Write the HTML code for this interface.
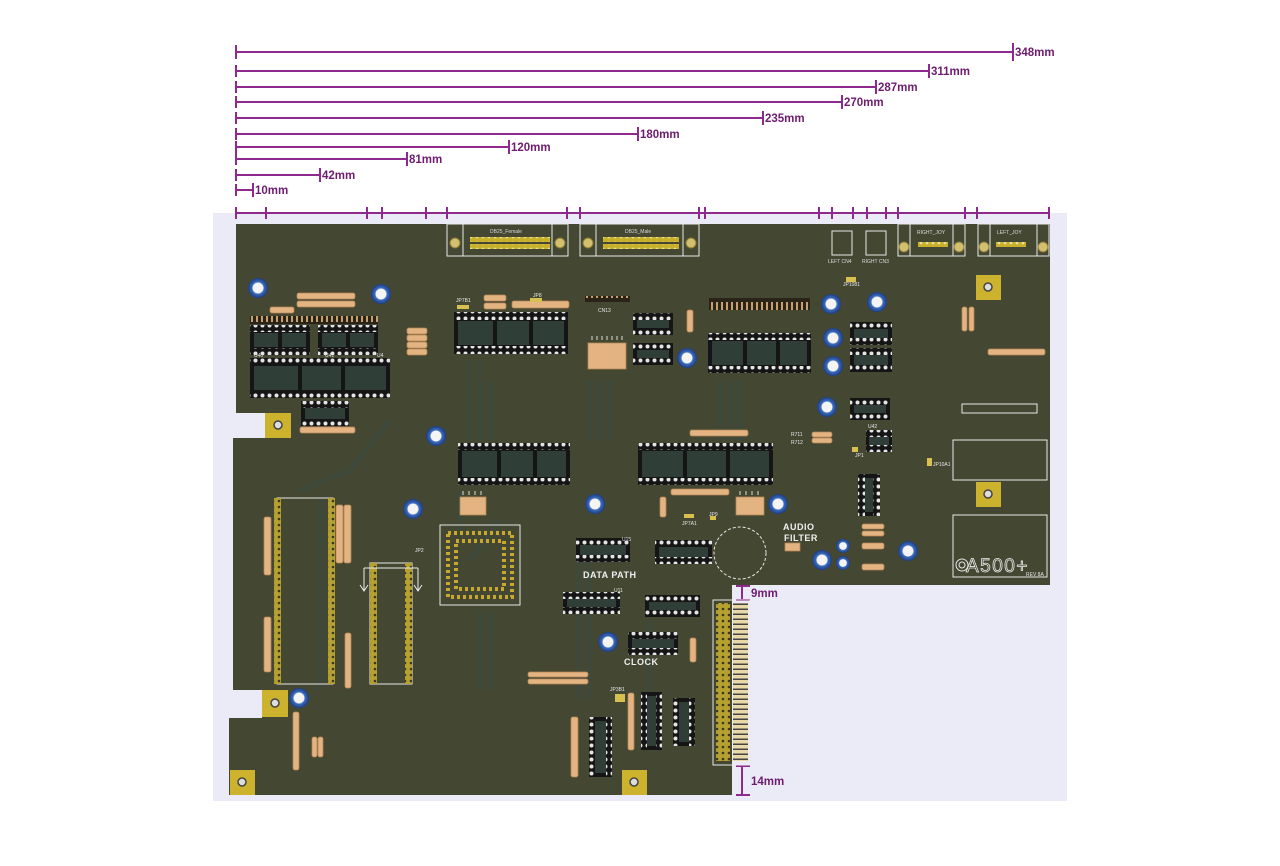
<!DOCTYPE html>
<html><head><meta charset="utf-8"><style>
html,body{margin:0;padding:0;background:#fff;width:1280px;height:866px;overflow:hidden}
svg{display:block}
text{font-family:"Liberation Sans",sans-serif}
</style></head><body>
<svg width="1280" height="866" viewBox="0 0 1280 866" xmlns="http://www.w3.org/2000/svg">
<defs>
<pattern id="h" width="7" height="7" patternUnits="userSpaceOnUse"><rect width="7" height="7" fill="#151515"/><circle cx="3.5" cy="3.5" r="2" fill="#e4e4e4"/></pattern>
<pattern id="g" width="6" height="6" patternUnits="userSpaceOnUse"><rect width="6" height="6" fill="#b5a030"/><circle cx="3" cy="3" r="1.3" fill="#3a3a20"/></pattern>
<pattern id="gv" width="6" height="6" patternUnits="userSpaceOnUse"><rect width="6" height="6" fill="#c9b02a"/><circle cx="3" cy="3" r="1.4" fill="#e8e0a0"/></pattern>
<pattern id="fing" width="6" height="5" patternUnits="userSpaceOnUse"><rect width="6" height="5" fill="#e9d9a8"/><rect y="3.5" width="6" height="1.5" fill="#444"/></pattern>
<pattern id="hdr" width="5" height="12" patternUnits="userSpaceOnUse"><rect width="5" height="12" fill="#2a2418"/><rect x="1" y="2" width="2" height="8" fill="#c7a070"/></pattern>
<radialGradient id="cap"><stop offset="0.5" stop-color="#f4f4f4"/><stop offset="0.6" stop-color="#3a6cc0"/><stop offset="1" stop-color="#1f3d80"/></radialGradient>
</defs>

<rect x="213" y="213" width="854" height="588" fill="#ebebf7"/>

<g stroke="#8e2a8e" stroke-width="2" fill="none">
<line x1="236" y1="52" x2="1013" y2="52"/><line x1="1013" y1="43" x2="1013" y2="61"/><line x1="236" y1="45" x2="236" y2="59"/>
<line x1="236" y1="71" x2="929" y2="71"/><line x1="929" y1="64" x2="929" y2="78"/><line x1="236" y1="65" x2="236" y2="77"/>
<line x1="236" y1="87" x2="876" y2="87"/><line x1="876" y1="80" x2="876" y2="94"/><line x1="236" y1="81" x2="236" y2="93"/>
<line x1="236" y1="102" x2="842" y2="102"/><line x1="842" y1="95" x2="842" y2="109"/><line x1="236" y1="96" x2="236" y2="108"/>
<line x1="236" y1="118" x2="763" y2="118"/><line x1="763" y1="111" x2="763" y2="125"/><line x1="236" y1="112" x2="236" y2="124"/>
<line x1="236" y1="134" x2="638" y2="134"/><line x1="638" y1="127" x2="638" y2="141"/><line x1="236" y1="128" x2="236" y2="140"/>
<line x1="236" y1="147" x2="509" y2="147"/><line x1="509" y1="140" x2="509" y2="154"/><line x1="236" y1="141" x2="236" y2="153"/>
<line x1="236" y1="159" x2="407" y2="159"/><line x1="407" y1="152" x2="407" y2="166"/><line x1="236" y1="153" x2="236" y2="165"/>
<line x1="236" y1="175" x2="320" y2="175"/><line x1="320" y1="168" x2="320" y2="182"/><line x1="236" y1="169" x2="236" y2="181"/>
<line x1="236" y1="190" x2="253" y2="190"/><line x1="253" y1="183" x2="253" y2="197"/><line x1="236" y1="184" x2="236" y2="196"/>
<line x1="236" y1="213" x2="1049" y2="213"/>
<path d="M236 207v12M266 207v12M367 207v12M382 207v12M426 207v12M447 207v12M567 207v12M580 207v12M699 207v12M705 207v12M819 207v12M832 207v12M853 207v12M867 207v12M886 207v12M898 207v12M965 207v12M977 207v12M1049 207v12"/>
<line x1="742" y1="586" x2="742" y2="600"/><line x1="736" y1="586" x2="750" y2="586"/><line x1="736" y1="600" x2="750" y2="600"/>
<line x1="742" y1="766" x2="742" y2="795"/><line x1="736" y1="766" x2="750" y2="766"/><line x1="736" y1="795" x2="750" y2="795"/>
</g>
<g fill="#6e1c6e" font-size="11.5" font-weight="bold">
<text x="1015" y="56">348mm</text><text x="931" y="75">311mm</text><text x="878" y="91">287mm</text>
<text x="844" y="106">270mm</text><text x="765" y="122">235mm</text><text x="640" y="138">180mm</text>
<text x="511" y="151">120mm</text><text x="409" y="163">81mm</text><text x="322" y="179">42mm</text>
<text x="255" y="194">10mm</text><text x="751" y="597">9mm</text><text x="751" y="785">14mm</text>
</g>

<path d="M236 224H1050V585H732V795H229V718H262V690H233V438H265V413H236Z" fill="#444732"/>
<g stroke="#3e4a3c" stroke-width="6" fill="none" opacity="0.7">
<path d="M470 360V440M480 360V440M490 380V440M720 380V440M730 380V440M740 380V440M460 490V530M590 380V440M600 380V440M610 380V440"/>
<path d="M580 560V700M590 560V700M650 620V700M480 610V690M490 610V690M320 500V690"/>
<path d="M390 420L350 470L300 490M500 520L470 560"/>
</g>

<g fill="none" stroke="#e8e8e8" stroke-width="1">
<rect x="447" y="224" width="121" height="32"/><rect x="580" y="224" width="119" height="32"/>
<rect x="447" y="224" width="16" height="32"/><rect x="552" y="224" width="16" height="32"/>
<rect x="580" y="224" width="16" height="32"/><rect x="683" y="224" width="16" height="32"/>
<rect x="832" y="231" width="20" height="24"/><rect x="866" y="231" width="20" height="24"/>
<rect x="898" y="224" width="67" height="32"/><rect x="978" y="224" width="71" height="32"/>
<rect x="898" y="224" width="12" height="32"/><rect x="953" y="224" width="12" height="32"/>
<rect x="978" y="224" width="12" height="32"/><rect x="1037" y="224" width="12" height="32"/>
<rect x="962" y="404" width="75" height="9"/>
<rect x="953" y="440" width="94" height="40"/><rect x="953" y="515" width="94" height="62"/>
<rect x="440" y="525" width="80" height="80"/>
<rect x="277" y="498" width="56" height="186"/>
<rect x="370" y="563" width="42" height="121"/>
<rect x="713" y="600" width="37" height="165"/>
<circle cx="740" cy="553" r="26" stroke-dasharray="3 2"/>
</g>
<g fill="#d2c070" stroke="#8a7a30" stroke-width="1">
<circle cx="455" cy="243" r="5"/><circle cx="560" cy="243" r="5"/><circle cx="588" cy="243" r="5"/><circle cx="691" cy="243" r="5"/>
<circle cx="904" cy="247" r="5"/><circle cx="959" cy="247" r="5"/><circle cx="984" cy="247" r="5"/><circle cx="1043" cy="247" r="5"/>
</g>
<rect x="470" y="237" width="80" height="5" fill="url(#gv)"/><rect x="470" y="244" width="80" height="5" fill="url(#gv)"/>
<rect x="603" y="237" width="76" height="5" fill="url(#gv)"/><rect x="603" y="244" width="76" height="5" fill="url(#gv)"/>
<rect x="918" y="242" width="30" height="5" fill="url(#gv)"/><rect x="996" y="242" width="30" height="5" fill="url(#gv)"/>
<g fill="#ddd" font-size="5"><text x="490" y="233">DB25_Female</text><text x="625" y="233">DB25_Male</text><text x="917" y="234">RIGHT_JOY</text><text x="997" y="234">LEFT_JOY</text><text x="828" y="263">LEFT  CN4</text><text x="862" y="263">RIGHT  CN3</text></g>

<g fill="#cdb22e"><rect x="265" y="413" width="26" height="25"/><rect x="262" y="690" width="26" height="27"/><rect x="230" y="770" width="25" height="25"/><rect x="622" y="770" width="25" height="25"/><rect x="976" y="275" width="25" height="25"/><rect x="976" y="482" width="25" height="25"/></g>
<g fill="#ddd" stroke="#444" stroke-width="1.5"><circle cx="278" cy="425" r="4"/><circle cx="275" cy="703" r="4"/><circle cx="242" cy="782" r="4"/><circle cx="634" cy="782" r="4"/><circle cx="988" cy="287" r="4"/><circle cx="988" cy="494" r="4"/></g>

<rect x="250" y="316" width="128" height="8" fill="url(#hdr)"/>
<rect x="709" y="298" width="101" height="12" fill="url(#hdr)"/>
<rect x="585" y="296" width="45" height="6" fill="url(#hdr)"/>

<g>
<g fill="#151515">
<rect x="250" y="325" width="60" height="30"/><rect x="318" y="325" width="60" height="30"/>
<rect x="250" y="358" width="140" height="40"/>
<rect x="301" y="401" width="48" height="25"/>
<rect x="454" y="312" width="114" height="42"/>
<rect x="633" y="313" width="40" height="22"/><rect x="633" y="343" width="40" height="22"/>
<rect x="708" y="333" width="103" height="40"/>
<rect x="850" y="322" width="42" height="23"/><rect x="850" y="348" width="42" height="24"/>
<rect x="850" y="398" width="40" height="22"/><rect x="866" y="430" width="26" height="22"/>
<rect x="458" y="443" width="112" height="42"/><rect x="638" y="443" width="135" height="42"/>
<rect x="576" y="538" width="54" height="24"/><rect x="655" y="540" width="57" height="24"/>
<rect x="563" y="592" width="57" height="22"/><rect x="645" y="595" width="55" height="22"/>
<rect x="628" y="632" width="50" height="23"/>
<rect x="858" y="474" width="22" height="42"/>
<rect x="641" y="692" width="21" height="58"/><rect x="673" y="698" width="22" height="48"/>
<rect x="589" y="717" width="23" height="60"/>
</g>
<g fill="#2f3e36">
<rect x="254" y="333" width="52" height="14"/><rect x="322" y="333" width="52" height="14"/>
<rect x="254" y="366" width="132" height="24"/><rect x="305" y="408" width="40" height="11"/>
<rect x="458" y="321" width="106" height="24"/><rect x="637" y="320" width="32" height="8"/><rect x="637" y="350" width="32" height="8"/>
<rect x="712" y="341" width="95" height="24"/><rect x="854" y="329" width="34" height="9"/><rect x="854" y="355" width="34" height="10"/>
<rect x="854" y="405" width="32" height="8"/><rect x="869" y="436" width="20" height="10"/>
<rect x="462" y="451" width="104" height="26"/><rect x="642" y="451" width="127" height="26"/>
<rect x="580" y="545" width="46" height="10"/><rect x="659" y="547" width="49" height="10"/>
<rect x="567" y="599" width="49" height="8"/><rect x="649" y="602" width="47" height="8"/><rect x="632" y="639" width="42" height="9"/>
<rect x="864" y="478" width="10" height="34"/><rect x="647" y="696" width="9" height="50"/><rect x="679" y="702" width="10" height="40"/><rect x="595" y="721" width="11" height="52"/>
</g>
<g fill="#151515">
<rect x="298" y="366" width="4" height="24"/><rect x="341" y="366" width="4" height="24"/>
<rect x="493" y="321" width="4" height="24"/><rect x="529" y="321" width="4" height="24"/>
<rect x="743" y="341" width="4" height="24"/><rect x="776" y="341" width="4" height="24"/>
<rect x="497" y="451" width="4" height="26"/><rect x="533" y="451" width="4" height="26"/>
<rect x="683" y="451" width="4" height="26"/><rect x="726" y="451" width="4" height="26"/>
<rect x="278" y="333" width="4" height="14"/><rect x="346" y="333" width="4" height="14"/>
</g>
<g fill="url(#h)">
<rect x="250" y="325" width="60" height="7"/><rect x="250" y="348" width="60" height="7"/>
<rect x="318" y="325" width="60" height="7"/><rect x="318" y="348" width="60" height="7"/>
<rect x="250" y="358" width="140" height="7"/><rect x="250" y="391" width="140" height="7"/>
<rect x="301" y="401" width="48" height="7"/><rect x="301" y="419" width="48" height="7"/>
<rect x="454" y="312" width="114" height="8"/><rect x="454" y="346" width="114" height="8"/>
<rect x="633" y="313" width="40" height="7"/><rect x="633" y="328" width="40" height="7"/>
<rect x="633" y="343" width="40" height="7"/><rect x="633" y="358" width="40" height="7"/>
<rect x="708" y="333" width="103" height="7"/><rect x="708" y="366" width="103" height="7"/>
<rect x="850" y="322" width="42" height="7"/><rect x="850" y="338" width="42" height="7"/>
<rect x="850" y="348" width="42" height="7"/><rect x="850" y="365" width="42" height="7"/>
<rect x="850" y="398" width="40" height="7"/><rect x="850" y="413" width="40" height="7"/>
<rect x="866" y="430" width="26" height="7"/><rect x="866" y="445" width="26" height="7"/>
<rect x="458" y="443" width="112" height="7"/><rect x="458" y="478" width="112" height="7"/>
<rect x="638" y="443" width="135" height="7"/><rect x="638" y="478" width="135" height="7"/>
<rect x="576" y="538" width="54" height="7"/><rect x="576" y="555" width="54" height="7"/>
<rect x="655" y="540" width="57" height="7"/><rect x="655" y="557" width="57" height="7"/>
<rect x="563" y="592" width="57" height="7"/><rect x="563" y="607" width="57" height="7"/>
<rect x="645" y="595" width="55" height="7"/><rect x="645" y="610" width="55" height="7"/>
<rect x="628" y="632" width="50" height="7"/><rect x="628" y="648" width="50" height="7"/>
<rect x="858" y="474" width="7" height="42"/><rect x="873" y="474" width="7" height="42"/>
<rect x="641" y="692" width="6" height="58"/><rect x="656" y="692" width="6" height="58"/>
<rect x="673" y="698" width="6" height="48"/><rect x="689" y="698" width="6" height="48"/>
<rect x="589" y="717" width="6" height="60"/><rect x="606" y="717" width="6" height="60"/>
</g>
</g>

<rect x="274" y="498" width="7" height="186" fill="url(#g)"/><rect x="328" y="498" width="7" height="186" fill="url(#g)"/>
<rect x="370" y="563" width="7" height="121" fill="url(#g)"/><rect x="405" y="563" width="7" height="121" fill="url(#g)"/>
<rect x="716" y="603" width="14" height="158" fill="url(#g)"/>
<rect x="733" y="603" width="15" height="158" fill="url(#fing)"/>
<g fill="none" stroke="#c9a830" stroke-width="4" stroke-dasharray="3 3">
<rect x="448" y="533" width="64" height="64"/><rect x="456" y="541" width="48" height="48"/>
</g>
<g stroke="#eee" fill="none" stroke-width="1"><path d="M364 568V590M360 585L364 591L368 585M418 568V590M414 585L418 591L422 585M364 568H418"/></g>

<g fill="#e3b482" stroke="#b58656" stroke-width="0.8">
<rect x="297" y="293" width="58" height="6" rx="2"/><rect x="297" y="301" width="58" height="6" rx="2"/>
<rect x="270" y="307" width="24" height="6" rx="2"/><rect x="300" y="427" width="55" height="6" rx="2"/>
<rect x="484" y="295" width="22" height="6" rx="2"/><rect x="484" y="303" width="22" height="6" rx="2"/>
<rect x="512" y="301" width="57" height="7" rx="2"/>
<rect x="690" y="430" width="58" height="6" rx="2"/><rect x="671" y="489" width="58" height="6" rx="2"/>
<rect x="528" y="672" width="60" height="5" rx="2"/><rect x="528" y="679" width="60" height="5" rx="2"/>
<rect x="812" y="432" width="20" height="5" rx="2"/><rect x="812" y="438" width="20" height="5" rx="2"/>
<rect x="862" y="524" width="22" height="5" rx="2"/><rect x="862" y="531" width="22" height="5" rx="2"/>
<rect x="862" y="543" width="22" height="6" rx="2"/><rect x="862" y="564" width="22" height="6" rx="2"/>
<rect x="988" y="349" width="57" height="6" rx="2"/>
<rect x="407" y="328" width="20" height="6" rx="2"/><rect x="407" y="335" width="20" height="6" rx="2"/><rect x="407" y="342" width="20" height="6" rx="2"/><rect x="407" y="349" width="20" height="6" rx="2"/>
<rect x="588" y="343" width="38" height="26"/><rect x="460" y="497" width="26" height="18"/><rect x="736" y="497" width="28" height="18"/><rect x="785" y="543" width="15" height="8"/>
<rect x="264" y="517" width="7" height="58" rx="2"/><rect x="264" y="617" width="7" height="55" rx="2"/>
<rect x="336" y="505" width="7" height="58" rx="2"/><rect x="344" y="505" width="7" height="58" rx="2"/>
<rect x="345" y="633" width="6" height="55" rx="2"/><rect x="293" y="712" width="6" height="58" rx="2"/>
<rect x="571" y="717" width="7" height="60" rx="2"/><rect x="628" y="693" width="6" height="57" rx="2"/>
<rect x="962" y="307" width="5" height="24" rx="2"/><rect x="969" y="307" width="5" height="24" rx="2"/>
<rect x="687" y="310" width="6" height="22" rx="2"/><rect x="660" y="497" width="6" height="20" rx="2"/>
<rect x="690" y="638" width="6" height="24" rx="2"/><rect x="312" y="737" width="5" height="20" rx="2"/><rect x="318" y="737" width="5" height="20" rx="2"/>
</g>
<g stroke="#ddd" stroke-width="1"><path d="M592 340v-4M597 340v-4M602 340v-4M607 340v-4M612 340v-4M617 340v-4M622 340v-4M463 495v-4M469 495v-4M475 495v-4M481 495v-4M740 495v-4M746 495v-4M752 495v-4M758 495v-4"/></g>

<g fill="url(#cap)">
<circle cx="258" cy="288" r="10"/><circle cx="381" cy="294" r="10"/><circle cx="436" cy="436" r="10"/><circle cx="413" cy="509" r="10"/>
<circle cx="595" cy="504" r="10"/><circle cx="778" cy="504" r="10"/><circle cx="687" cy="358" r="10"/><circle cx="831" cy="304" r="10"/>
<circle cx="877" cy="302" r="10"/><circle cx="833" cy="338" r="10"/><circle cx="833" cy="366" r="10"/><circle cx="827" cy="407" r="10"/>
<circle cx="822" cy="560" r="10"/><circle cx="908" cy="551" r="10"/><circle cx="608" cy="642" r="10"/><circle cx="299" cy="698" r="10"/>
<circle cx="843" cy="546" r="7"/><circle cx="843" cy="563" r="7"/>
</g>

<g fill="#d8c050"><rect x="457" y="305" width="12" height="4"/><rect x="530" y="298" width="12" height="4"/><rect x="846" y="277" width="10" height="5"/><rect x="852" y="447" width="6" height="5"/><rect x="927" y="458" width="5" height="8"/><rect x="684" y="514" width="10" height="4"/><rect x="710" y="516" width="6" height="4"/><rect x="615" y="694" width="10" height="8"/></g>

<g fill="#e8e8e8" font-size="5"><text x="254" y="357">U40</text><text x="325" y="357">U41</text><text x="377" y="357">U4</text><text x="456" y="302">JP7B1</text><text x="533" y="297">JP8</text><text x="598" y="312">CN13</text><text x="843" y="286">JP1081</text><text x="868" y="428">U42</text><text x="791" y="436">R711</text><text x="791" y="444">R712</text><text x="855" y="457">JP1</text><text x="933" y="466">JP10A1</text><text x="682" y="525">JP7A1</text><text x="709" y="516">JP9</text><text x="622" y="541">U15</text><text x="415" y="552">JP2</text><text x="610" y="691">JP3B1</text><text x="614" y="592">U11</text></g>
<g fill="#f0f0f0" font-size="9" font-weight="bold" letter-spacing="0.5">
<text x="783" y="530">AUDIO</text><text x="784" y="541">FILTER</text>
<text x="583" y="578">DATA PATH</text><text x="624" y="665">CLOCK</text>
</g>
<text x="966" y="572" font-size="19" fill="none" stroke="#e8e8e8" stroke-width="0.8" letter-spacing="1.5">A500+</text>
<text x="1026" y="576" font-size="5" fill="#e8e8e8">REV 8A</text>
<g fill="none" stroke="#e8e8e8" stroke-width="1"><circle cx="962" cy="565" r="6"/><circle cx="962" cy="565" r="3"/></g>
</svg>
</body></html>
